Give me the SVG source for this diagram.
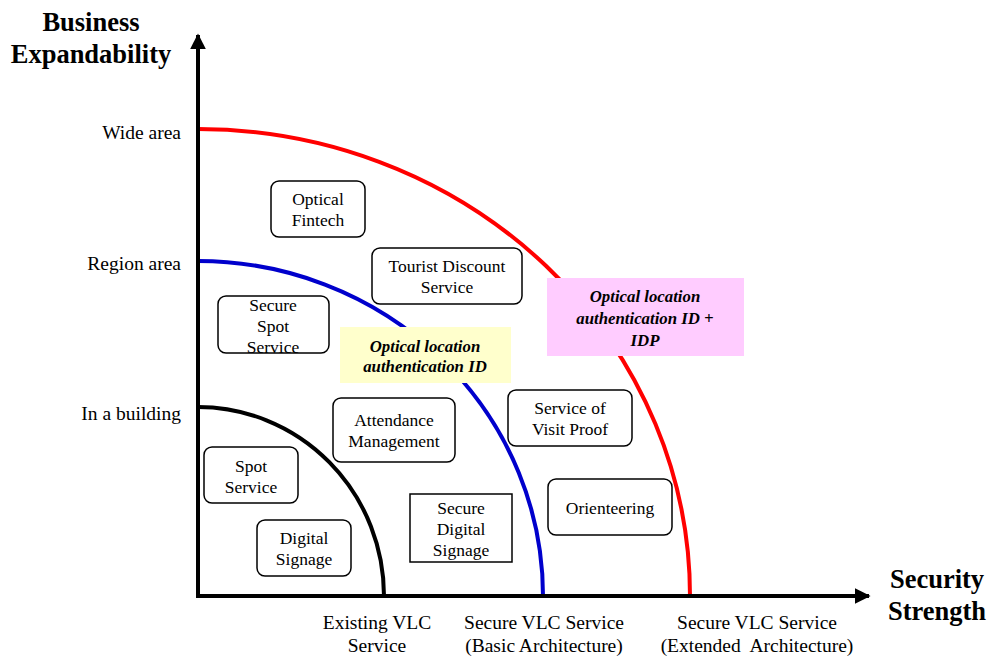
<svg xmlns="http://www.w3.org/2000/svg" width="988" height="657" viewBox="0 0 988 657">
<style>
text{font-family:"Liberation Serif","Times New Roman",serif;fill:#000}
.lbl{font-size:17.5px;text-anchor:middle}
.ax{font-size:19.5px}
.title{font-size:26.5px;font-weight:bold;text-anchor:middle}
.note{font-size:16.8px;font-weight:bold;font-style:italic;text-anchor:middle}
.box{fill:#fff;stroke:#000;stroke-width:1.5}
.arc{fill:none;stroke-width:4}
</style>
<defs>
<marker id="ah" viewBox="0 0 10 10" refX="9" refY="5" markerWidth="4" markerHeight="4" orient="auto" markerUnits="strokeWidth">
<path d="M0,0 L10,5 L0,10 z" fill="#000"/>
</marker>
</defs>
<rect width="988" height="657" fill="#fff"/>
<g id="arcs">
<path class="arc" stroke="#ff0000" d="M198,129 A492,467 0 0 1 690,596"/>
<path class="arc" stroke="#0000cc" d="M198,261 A345,335 0 0 1 543,596"/>
<path class="arc" stroke="#000" d="M198,407 A186,189 0 0 1 384,596"/>
</g>
<g id="connectors">
<line x1="198" y1="598" x2="198" y2="35" stroke="#000" stroke-width="4" marker-end="url(#ah)"/>
<line x1="196" y1="596" x2="869" y2="596" stroke="#000" stroke-width="4" marker-end="url(#ah)"/>
</g>
<g id="axis-labels">
<text class="title" x="91" y="31">Business</text>
<text class="title" x="91" y="63">Expandability</text>
<text class="title" x="937" y="588">Security</text>
<text class="title" x="937" y="620">Strength</text>
<text class="ax" x="181" y="139" text-anchor="end">Wide area</text>
<text class="ax" x="181" y="270" text-anchor="end">Region area</text>
<text class="ax" x="181" y="420" text-anchor="end">In a building</text>
<text class="ax" x="377" y="629" text-anchor="middle">Existing VLC</text>
<text class="ax" x="377" y="652" text-anchor="middle">Service</text>
<text class="ax" x="544" y="629" text-anchor="middle">Secure VLC Service</text>
<text class="ax" x="544" y="652" text-anchor="middle">(Basic Architecture)</text>
<text class="ax" x="757" y="629" text-anchor="middle">Secure VLC Service</text>
<text class="ax" x="757" y="652" text-anchor="middle" xml:space="preserve">(Extended  Architecture)</text>
</g>
<g id="optical-fintech"><rect class="box" x="271" y="181" width="94" height="56" rx="8"/><text class="lbl" x="318" y="205">Optical</text><text class="lbl" x="318" y="226">Fintech</text></g>
<g id="tourist-discount"><rect class="box" x="372" y="248" width="150" height="56" rx="8"/><text class="lbl" x="447" y="272">Tourist Discount</text><text class="lbl" x="447" y="293">Service</text></g>
<g id="secure-spot"><rect class="box" x="218" y="296" width="111" height="57" rx="8"/><text class="lbl" x="273" y="311">Secure</text><text class="lbl" x="273" y="332">Spot</text><text class="lbl" x="273" y="353">Service</text></g>
<g id="attendance"><rect class="box" x="333" y="398" width="122" height="64" rx="8"/><text class="lbl" x="394" y="426">Attendance</text><text class="lbl" x="394" y="447">Management</text></g>
<g id="visit-proof"><rect class="box" x="508" y="390" width="124" height="56" rx="8"/><text class="lbl" x="570" y="414">Service of</text><text class="lbl" x="570" y="435">Visit Proof</text></g>
<g id="orienteering"><rect class="box" x="548" y="479" width="124" height="56" rx="8"/><text class="lbl" x="610" y="514">Orienteering</text></g>
<g id="secure-digital-signage"><rect class="box" x="410" y="494" width="102" height="68"/><text class="lbl" x="461" y="514">Secure</text><text class="lbl" x="461" y="535">Digital</text><text class="lbl" x="461" y="556">Signage</text></g>
<g id="spot-service"><rect class="box" x="204" y="447" width="94" height="56" rx="8"/><text class="lbl" x="251" y="472">Spot</text><text class="lbl" x="251" y="493">Service</text></g>
<g id="digital-signage"><rect class="box" x="257" y="520" width="94" height="56" rx="8"/><text class="lbl" x="304" y="544">Digital</text><text class="lbl" x="304" y="565">Signage</text></g>
<g id="note-basic"><rect x="340" y="327" width="171" height="56" fill="#ffffcc"/><text class="note" x="425" y="352">Optical location</text><text class="note" x="425" y="372">authentication ID</text></g>
<g id="note-extended"><rect x="547" y="278" width="197" height="78" fill="#ffccff"/><text class="note" x="645" y="302">Optical location</text><text class="note" x="645" y="324">authentication ID +</text><text class="note" x="645" y="346">IDP</text></g>
</svg>
